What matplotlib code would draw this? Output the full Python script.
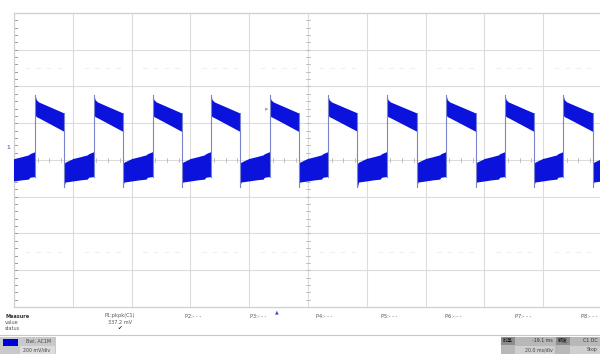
import matplotlib
matplotlib.use("Agg")
import matplotlib.pyplot as plt
from matplotlib.patches import Rectangle
import numpy as np

plt.rcParams['font.family'] = ['DejaVu Sans', 'Noto Sans CJK SC']

# --- waveform data (time in divisions, amplitude in divisions) ---
rise_times = [0.36, 1.36, 2.36, 3.35, 4.35, 5.34, 6.34, 7.35, 8.35, 9.34]
fall_times = [-0.15, 0.85, 1.85, 2.85, 3.84, 4.84, 5.84, 6.85, 7.85, 8.84, 9.84]

high_phase = [0.0, 0.04, 0.12, 1.0]
high_top = [1.76, 1.64, 1.58, 1.28]
high_bot = [1.22, 1.18, 1.15, 0.78]

low_phase = [0.0, 0.04, 0.3, 0.55, 0.78, 0.82, 1.0]
low_top = [-0.10, -0.06, 0.04, 0.09, 0.14, 0.17, 0.23]
low_bot = [-0.74, -0.60, -0.57, -0.54, -0.52, -0.47, -0.45]

# --- measurement panel text ---
meas_names = ["P1:pkpk(C1)", "P2:- - -", "P3:- - -", "P4:- - -",
              "P5:- - -", "P6:- - -", "P7:- - -", "P8:- - -"]
meas_values = ["337.2 mV", "", "", "", "", "", "", ""]
meas_x = [120, 193, 258, 324, 389, 453, 523, 589]

W, H = 600, 354
fig = plt.figure(figsize=(W / 100, H / 100), dpi=100)
fig.patch.set_facecolor("white")

# screen area: 10 x 8 divisions
left_px, top_px, div_w, div_h = 14, 13, 58.8, 36.75
ax = fig.add_axes([left_px / W, 1 - (top_px + 8 * div_h) / H,
                   10 * div_w / W, 8 * div_h / H])
ax.set_xlim(0, 10)
ax.set_ylim(-4, 4)
ax.set_xticks([])
ax.set_yticks([])
for s in ax.spines.values():
    s.set_color("#cfcfcf")
    s.set_linewidth(0.9)

grid_c = "#dcdcdc"
for gx in range(1, 10):
    ax.axvline(gx, color=grid_c, lw=0.8, zorder=0)
for gy in range(-3, 4):
    ax.axhline(gy, color=grid_c, lw=0.8, zorder=0)

# minor ticks on the centre cross-hair and the left edge
tick_c = "#b8b8b8"
for t in np.arange(0, 10.01, 0.2):
    ax.plot([t, t], [-0.05, 0.05], color=tick_c, lw=0.6, zorder=1)
for t in np.arange(-4, 4.01, 0.2):
    ax.plot([4.97, 5.03], [t, t], color=tick_c, lw=0.6, zorder=1)
    ax.plot([0, 0.05], [t, t], color="#9a9a9a", lw=0.7, zorder=1)

# faint measurement gate dashes
for yy in (2.5, -2.5):
    for gx in range(10):
        for k in range(4):
            x0 = gx + 0.2 + k * 0.18
            ax.plot([x0, x0 + 0.06], [yy, yy], color="#eeeeee", lw=0.8, zorder=0)

blue = "#0a12dc"
edge_c = "#7a84c8"

# high halves
for r, f in zip(rise_times, fall_times[1:]):
    xs = [r + p * (f - r) for p in high_phase]
    ax.fill_between(xs, high_bot, high_top, color=blue, lw=0, zorder=3)
# low halves
for k, f in enumerate(fall_times):
    r = rise_times[k] if k < len(rise_times) else f + 0.51
    xs = [f + p * (r - f) for p in low_phase]
    ax.fill_between(xs, low_bot, low_top, color=blue, lw=0, zorder=3)

# transition edges
for r in rise_times:
    ax.plot([r, r], [low_bot[-1], high_top[0]], color=edge_c, lw=0.8, zorder=4)
for f in fall_times:
    ax.plot([f, f], [low_bot[0], high_top[-1]], color=edge_c, lw=0.8, zorder=4)

# channel / trigger markers
fig.text(8 / W, 1 - 148 / H, "1", fontsize=4, color="#7a86b8",
         ha="center", va="center", fontweight="bold")
fig.text(267 / W, 1 - 109 / H, "\u25b8", fontsize=5, color="#a8a8a8",
         ha="center", va="center")
fig.text(277 / W, 1 - 312 / H, "\u25b2", fontsize=3.5, color="#3a4ae0",
         ha="center", va="center")

# measurement table
txt_c = "#555555"
fig.text(5 / W, 1 - 316 / H, "Measure", fontsize=3.6, color="#333333",
         fontweight="bold", va="center")
fig.text(5 / W, 1 - 322 / H, "value", fontsize=3.6, color=txt_c, va="center")
fig.text(5 / W, 1 - 328 / H, "status", fontsize=3.6, color=txt_c, va="center")
for name, val, mx in zip(meas_names, meas_values, meas_x):
    fig.text(mx / W, 1 - 316 / H, name, fontsize=3.6, color=txt_c,
             ha="center", va="center")
    if val:
        fig.text(mx / W, 1 - 322 / H, val, fontsize=3.6, color=txt_c,
                 ha="center", va="center")
        fig.text(mx / W, 1 - 328 / H, "\u2714", fontsize=4, color="#333333",
                 ha="center", va="center")
fig.add_artist(plt.Line2D([0, 1], [1 - 335 / H, 1 - 335 / H],
                          color="#c8c8c8", lw=0.8, transform=fig.transFigure))


def box(x, y, w, h, fc):
    fig.add_artist(Rectangle((x / W, 1 - (y + h) / H), w / W, h / H,
                             transform=fig.transFigure, fc=fc, ec="none"))


# channel descriptor box
box(0, 337, 56, 17, "#c9c9c9")
box(20, 346, 35, 8, "#dcdcdc")
box(3, 339, 15, 7, "#0000d8")
fig.text(38 / W, 1 - 341.5 / H, "Bwl, AC1M", fontsize=3.4, color="#444444",
         ha="center", va="center")
fig.text(37 / W, 1 - 350 / H, "200 mV/div", fontsize=3.4, color="#444444",
         ha="center", va="center")

# timebase / trigger box
box(501, 337, 99, 17, "#b8b8b8")
box(501, 337, 14, 8, "#8c8c8c")
box(556, 337, 14, 8, "#8c8c8c")
box(515, 346, 40, 8, "#cfcfcf")
box(570, 346, 30, 8, "#cfcfcf")
fig.text(508 / W, 1 - 341 / H, "时基", fontsize=3.6, color="#111111",
         ha="center", va="center")
fig.text(553 / W, 1 - 341 / H, "-19.1 ms", fontsize=3.4, color="#333333",
         ha="right", va="center")
fig.text(563 / W, 1 - 341 / H, "触发", fontsize=3.6, color="#111111",
         ha="center", va="center")
fig.text(598 / W, 1 - 341 / H, "C1 DC", fontsize=3.4, color="#333333",
         ha="right", va="center")
fig.text(553 / W, 1 - 350 / H, "20.0 ms/div", fontsize=3.4, color="#444444",
         ha="right", va="center")
fig.text(598 / W, 1 - 350 / H, "Stop", fontsize=3.4, color="#444444",
         ha="right", va="center")

fig.savefig("out.png", dpi=100, facecolor="white")
